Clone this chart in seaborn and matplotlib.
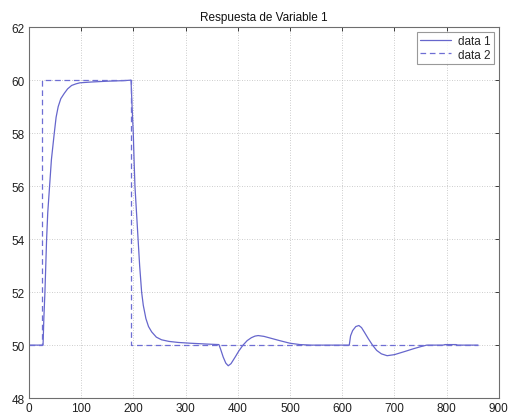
import matplotlib
matplotlib.use("Agg")
import matplotlib.pyplot as plt
import seaborn as sns
import pandas as pd

# Process response (data 1) read as (time, value) points
resp_t = [0, 27, 28.5, 30.6, 33.8, 36, 39.5, 43, 48.5, 52, 56, 61, 67.6, 74, 81.7,
          90, 97.7, 120, 150, 180, 195.5, 197.5, 199.8, 201.3, 203, 206, 209, 212,
          215.8, 219, 224, 229, 235, 244, 254, 268, 286, 310, 340, 363.8, 367, 372,
          377, 381.7, 387, 395, 402, 410, 418, 426, 433, 439, 450, 465, 480, 500,
          519, 540, 613.5, 616, 620, 626, 631.9, 637, 643, 650, 658, 666, 675, 686,
          700, 720, 736, 750, 762, 793, 797, 818, 821, 860]
resp_y = [50, 50, 51, 52, 54, 55, 56, 57, 58, 58.6, 59.0, 59.3, 59.5, 59.67, 59.8,
          59.86, 59.9, 59.93, 59.96, 59.98, 60, 59, 58, 57, 56, 55, 54, 53,
          52, 51.5, 51, 50.7, 50.5, 50.3, 50.2, 50.14, 50.1, 50.07, 50.04, 50.02, 49.85, 49.55,
          49.32, 49.22, 49.3, 49.55, 49.78, 50.0, 50.17, 50.28, 50.34, 50.36, 50.33, 50.25, 50.17, 50.07,
          50.02, 50.0, 50.0, 50.35, 50.55, 50.7, 50.74, 50.66, 50.47, 50.24, 50.0, 49.8, 49.67, 49.60,
          49.64, 49.76, 49.86, 49.94, 50.0, 50.0, 50.02, 50.02, 50.0, 50.0]

# Setpoint (data 2)
ref_t = [0, 25, 25, 195, 195, 860]
ref_y = [50, 50, 60, 60, 50, 50]

x_ticks = [0, 100, 200, 300, 400, 500, 600, 700, 800, 900]
y_ticks = [48, 50, 52, 54, 56, 58, 60, 62]

sns.set_style("white")
plt.rcParams["font.family"] = ["Liberation Sans", "DejaVu Sans"]

fig = plt.figure(figsize=(5.08, 4.14), dpi=100)
ax = fig.add_axes([0.057, 0.036, 0.925, 0.896])

df1 = pd.DataFrame({"t": resp_t, "y": resp_y})
df2 = pd.DataFrame({"t": ref_t, "y": ref_y})

sns.lineplot(data=df1, x="t", y="y", sort=False, estimator=None, ax=ax,
             color="#6666cc", linewidth=0.9, label="data 1")
sns.lineplot(data=df2, x="t", y="y", sort=False, estimator=None, ax=ax,
             color="#6e6ed4", linewidth=0.9, dashes=False, label="data 2")
ax.lines[1].set_dashes((4.5, 3))

ax.set_xlim(0, 900)
ax.set_ylim(48, 62)
ax.set_xticks(x_ticks)
ax.set_yticks(y_ticks)
ax.set_xlabel("")
ax.set_ylabel("")
ax.grid(True, linestyle=(0, (1, 2)), color="#bcbcbc", linewidth=0.6)
ax.tick_params(direction="in", length=3, width=0.6, top=True, right=True,
               labelsize=8.5, colors="#202020", pad=3)
for s in ax.spines.values():
    s.set_color("#6e6e6e")
    s.set_linewidth(0.8)

ax.set_title("Respuesta de Variable 1", fontsize=8.5, pad=5, color="#111111")

leg = ax.legend(loc="upper right", fontsize=8.5, frameon=True, fancybox=False,
                edgecolor="#808080", handlelength=2.6, borderpad=0.3,
                labelspacing=0.1, handletextpad=0.6, borderaxespad=0.4)
leg.get_frame().set_linewidth(0.8)

fig.savefig("out.png", dpi=100)
